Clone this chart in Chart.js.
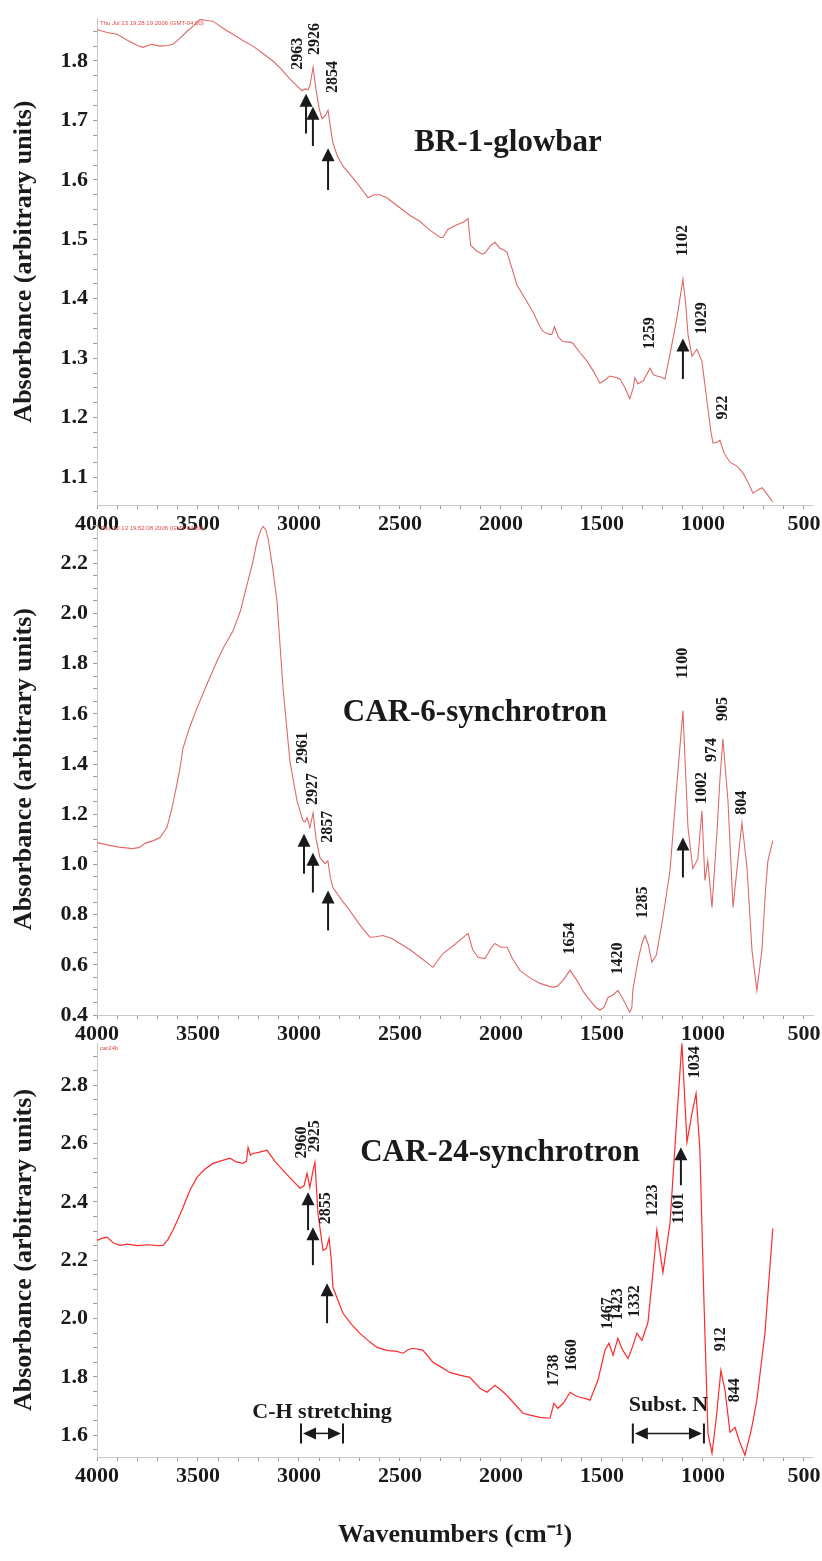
<!DOCTYPE html>
<html lang="en">
<head>
<meta charset="UTF-8">
<title>FTIR spectra</title>
<style>
  body { margin: 0; background: #fff; }
  #wrap { position: relative; width: 822px; height: 1561px; background: #fff; }
  canvas { position: absolute; left: 0; }
</style>
<script src="https://cdn.jsdelivr.net/npm/chart.js"></script>
</head>
<body>
<div id="wrap">
  <canvas id="c1" width="822" height="545" style="top:0px"></canvas>
  <canvas id="c2" width="822" height="545" style="top:505px"></canvas>
  <canvas id="c3" width="822" height="546" style="top:1015px"></canvas>
</div>
<script>
// ---- data (wavenumber cm-1, absorbance) ----
const wnBR1 = [4000,3950,3901,3850,3800,3772,3730,3688,3650,3624,3590,3554,3520,3490,3460,3426,3380,3327,3280,3228,3180,3129,3090,3045,3010,2985,2970,2955,2945,2930,2915,2900,2886,2870,2856,2845,2832,2810,2782,2750,2713,2680,2658,2630,2599,2565,2535,2500,2450,2401,2350,2300,2287,2262,2220,2180,2163,2150,2119,2090,2079,2050,2030,2005,1985,1970,1940,1921,1880,1842,1810,1792,1760,1748,1735,1715,1693,1660,1644,1610,1574,1540,1510,1490,1461,1435,1411,1385,1362,1345,1337,1322,1295,1262,1245,1228,1205,1188,1163,1129,1099,1085,1074,1054,1030,1005,980,960,950,932,916,895,866,830,802,775,752,730,708,680,654];
const absBR1 = [1.853,1.848,1.845,1.835,1.826,1.823,1.828,1.825,1.826,1.828,1.838,1.850,1.860,1.870,1.868,1.867,1.856,1.845,1.835,1.825,1.813,1.800,1.787,1.770,1.758,1.750,1.753,1.752,1.760,1.790,1.750,1.720,1.703,1.708,1.717,1.690,1.662,1.640,1.623,1.610,1.595,1.580,1.570,1.575,1.575,1.570,1.562,1.553,1.540,1.530,1.515,1.503,1.503,1.517,1.524,1.530,1.535,1.490,1.480,1.475,1.477,1.490,1.495,1.485,1.482,1.478,1.445,1.423,1.400,1.378,1.355,1.345,1.340,1.340,1.353,1.335,1.328,1.327,1.325,1.310,1.295,1.277,1.258,1.262,1.270,1.268,1.265,1.250,1.232,1.250,1.267,1.257,1.262,1.283,1.272,1.270,1.268,1.265,1.307,1.367,1.433,1.390,1.340,1.303,1.315,1.295,1.228,1.175,1.157,1.158,1.162,1.140,1.125,1.118,1.107,1.090,1.073,1.078,1.082,1.070,1.058];

const wnCAR6 = [4000,3950,3900,3822,3790,3760,3752,3720,3688,3654,3630,3604,3590,3574,3540,3505,3460,3406,3370,3327,3290,3257,3230,3208,3190,3178,3165,3153,3130,3109,3079,3045,3010,2980,2970,2960,2946,2930,2915,2896,2871,2857,2845,2832,2790,2748,2700,2649,2620,2584,2540,2500,2450,2401,2360,2337,2310,2287,2230,2163,2140,2114,2079,2050,2030,2000,1970,1940,1906,1860,1807,1743,1720,1693,1658,1624,1590,1559,1530,1510,1490,1470,1445,1421,1400,1362,1352,1347,1322,1300,1287,1270,1253,1230,1198,1163,1129,1099,1074,1050,1025,1005,990,976,955,931,915,901,876,851,827,807,782,757,733,708,690,678,654];
const absCAR6 = [1.087,1.078,1.070,1.063,1.068,1.085,1.087,1.095,1.107,1.147,1.220,1.321,1.380,1.464,1.550,1.623,1.710,1.810,1.870,1.930,2.010,2.116,2.200,2.287,2.330,2.347,2.335,2.300,2.180,2.050,1.703,1.413,1.254,1.174,1.170,1.186,1.147,1.206,1.100,1.027,1.003,1.015,0.950,0.908,0.860,0.816,0.760,0.710,0.712,0.717,0.705,0.685,0.660,0.630,0.605,0.590,0.620,0.645,0.680,0.725,0.660,0.630,0.625,0.665,0.685,0.670,0.670,0.620,0.578,0.550,0.526,0.510,0.515,0.538,0.578,0.538,0.490,0.458,0.430,0.420,0.430,0.470,0.480,0.498,0.470,0.411,0.430,0.498,0.617,0.690,0.717,0.680,0.610,0.640,0.789,0.975,1.321,1.612,1.147,0.983,1.023,1.214,0.936,1.015,0.829,1.122,1.350,1.500,1.254,0.829,1.015,1.166,0.990,0.657,0.498,0.657,0.900,1.015,1.095];

const wnCAR24 = [4000,3975,3951,3920,3886,3850,3800,3750,3700,3673,3650,3624,3600,3574,3540,3505,3470,3426,3390,3342,3310,3277,3260,3252,3240,3228,3200,3158,3120,3079,3040,2995,2975,2960,2946,2930,2921,2906,2881,2865,2851,2840,2832,2800,2782,2740,2698,2650,2614,2560,2520,2485,2460,2436,2400,2386,2337,2300,2253,2200,2154,2104,2069,2030,2000,1970,1930,1891,1850,1807,1757,1738,1718,1690,1658,1630,1609,1580,1559,1520,1485,1465,1445,1421,1400,1371,1350,1327,1302,1272,1248,1228,1198,1163,1129,1104,1079,1055,1034,1015,995,975,955,935,911,890,866,841,820,792,760,733,693,654];
const absCAR24 = [2.268,2.275,2.279,2.260,2.251,2.255,2.250,2.253,2.250,2.251,2.270,2.303,2.340,2.381,2.440,2.484,2.510,2.532,2.540,2.550,2.537,2.532,2.540,2.587,2.560,2.566,2.570,2.577,2.540,2.508,2.480,2.447,2.455,2.498,2.450,2.510,2.536,2.361,2.234,2.240,2.275,2.200,2.107,2.050,2.018,1.980,1.949,1.920,1.901,1.890,1.888,1.881,1.893,1.898,1.893,1.891,1.850,1.835,1.815,1.805,1.798,1.761,1.747,1.771,1.755,1.736,1.705,1.675,1.668,1.661,1.658,1.709,1.692,1.710,1.747,1.735,1.730,1.725,1.720,1.788,1.891,1.915,1.874,1.932,1.895,1.863,1.900,1.949,1.925,1.987,2.155,2.303,2.158,2.327,2.690,2.944,2.605,2.700,2.772,2.577,2.062,1.606,1.538,1.651,1.822,1.750,1.610,1.627,1.580,1.531,1.620,1.720,1.949,2.309];

const xTickVals = [];
for (let v = 500; v <= 4000; v += 100) xTickVals.push(v);

// peak labels: [text, wavenumber, absorbance]
const peaksBR1 = [['2963',3005,1.812],['2926',2921,1.837],['2854',2832,1.773],['1102',1099,1.498],['1259',1262,1.342],['1029',1005,1.367],['922',901,1.217]];
const arrowsBR1 = [[2965,1.745,1.678],[2931,1.723,1.657],[2856,1.653,1.583],[1099,1.333,1.265]];

const peaksCAR6 = [['2961',2980,1.464],['2927',2931,1.301],['2857',2856,1.150],['1100',1099,1.802],['905',901,1.620],['974',955,1.456],['1002',1005,1.305],['804',807,1.246],['1654',1658,0.705],['1420',1421,0.625],['1285',1297,0.848]];
const arrowsCAR6 = [[2975,1.122,0.963],[2931,1.047,0.888],[2856,0.896,0.737],[1099,1.107,0.948]];

const peaksCAR24 = [['2960',2985,2.604],['2925',2921,2.625],['2855',2866,2.378],['1034',1040,2.879],['1101',1119,2.378],['1223',1248,2.405],['1467',1470,2.018],['1423',1421,2.049],['1332',1337,2.059],['1738',1738,1.822],['1660',1649,1.874],['912',911,1.929],['844',842,1.754]];
const arrowsCAR24 = [[2955,2.433,2.303],[2931,2.313,2.183],[2861,2.121,1.984],[1109,2.587,2.457]];
const spansCAR24 = [['C-H stretching',2990,2782,1.606,1.678],['Subst. N',1347,995,1.606,1.702]];

const serif = '"Liberation Serif", "Times New Roman", serif';
const ink = '#1a1a1a';

function tickList(lo, hi, step) {
  const out = [];
  for (let v = lo; v <= hi + 1e-9; v += step) out.push(+v.toFixed(3));
  return out;
}

function arrowUp(ctx, x, yTip, yTail) {
  ctx.beginPath();
  ctx.moveTo(x, yTail);
  ctx.lineTo(x, yTip + 10);
  ctx.lineWidth = 2;
  ctx.stroke();
  ctx.beginPath();
  ctx.moveTo(x, yTip);
  ctx.lineTo(x - 6.5, yTip + 13);
  ctx.lineTo(x + 6.5, yTip + 13);
  ctx.closePath();
  ctx.fill();
}

function span(ctx, x1, x2, y) {
  const l = Math.min(x1, x2), r = Math.max(x1, x2);
  ctx.lineWidth = 2;
  ctx.beginPath();
  ctx.moveTo(l, y - 10); ctx.lineTo(l, y + 10);
  ctx.moveTo(r, y - 10); ctx.lineTo(r, y + 10);
  ctx.stroke();
  ctx.lineWidth = 1.5;
  ctx.beginPath();
  ctx.moveTo(l + 10, y); ctx.lineTo(r - 10, y);
  ctx.stroke();
  ctx.beginPath();
  ctx.moveTo(l + 2, y); ctx.lineTo(l + 15, y - 6); ctx.lineTo(l + 15, y + 6); ctx.closePath();
  ctx.moveTo(r - 2, y); ctx.lineTo(r - 15, y - 6); ctx.lineTo(r - 15, y + 6); ctx.closePath();
  ctx.fill();
}

function notes(n) {
  return {
    id: 'notes',
    afterDatasetsDraw(chart) {
      const { ctx, chartArea } = chart;
      const X = v => chart.scales.x.getPixelForValue(v);
      const Y = v => chart.scales.y.getPixelForValue(v);
      ctx.save();
      // tiny instrument stamp
      ctx.fillStyle = '#e04848';
      ctx.font = '6px "Liberation Sans", sans-serif';
      ctx.textAlign = 'left';
      ctx.textBaseline = 'top';
      ctx.fillText(n.stamp, chartArea.left + 3, chartArea.top + 2);

      ctx.fillStyle = ink;
      ctx.strokeStyle = ink;
      ctx.textAlign = 'center';
      ctx.textBaseline = 'middle';
      ctx.font = 'bold 31px ' + serif;
      ctx.fillText(n.name[0], X(n.name[1]), Y(n.name[2]));

      ctx.font = 'bold 16px ' + serif;
      n.peaks.forEach(([t, w, v]) => {
        ctx.save();
        ctx.translate(X(w), Y(v));
        ctx.rotate(-Math.PI / 2);
        ctx.fillText(t, 0, 0);
        ctx.restore();
      });
      n.arrows.forEach(([w, tip, tail]) => arrowUp(ctx, X(w), Y(tip), Y(tail)));

      (n.spans || []).forEach(([t, w1, w2, v, tv]) => {
        const x1 = X(w1), x2 = X(w2);
        span(ctx, x1, x2, Y(v));
        ctx.font = 'bold 22px ' + serif;
        ctx.fillText(t, (x1 + x2) / 2, Y(tv));
      });
      ctx.restore();
    }
  };
}

function makeChart(id, wn, ab, o) {
  return new Chart(document.getElementById(id), {
    type: 'line',
    data: {
      datasets: [{
        data: wn.map((w, i) => ({ x: w, y: ab[i] })),
        borderColor: o.color,
        borderWidth: o.lw,
        pointRadius: 0,
        tension: 0,
        fill: false
      }]
    },
    options: {
      responsive: false,
      animation: false,
      devicePixelRatio: 1,
      layout: { padding: { top: o.padTop, right: 9, left: 0, bottom: 0 } },
      plugins: { legend: { display: false }, tooltip: { enabled: false } },
      scales: {
        x: {
          type: 'linear', reverse: true, min: 455, max: 4000,
          afterBuildTicks: s => { s.ticks = xTickVals.map(v => ({ value: v })); },
          afterFit: s => { s.height = o.xH; },
          ticks: {
            autoSkip: false, maxRotation: 0, padding: 2, color: ink,
            font: { family: serif, size: 22, weight: 'bold' },
            callback: v => (v % 500 === 0 ? String(v) : '')
          },
          grid: { drawOnChartArea: false, tickLength: 4, color: '#9a9a9a' },
          border: { color: '#c8c8c8' },
          title: o.xTitle
            ? { display: true, text: o.xTitle, color: ink, padding: 10, font: { family: serif, size: 26, weight: 'bold' } }
            : { display: false }
        },
        y: {
          type: 'linear', min: o.yMin, max: o.yMax,
          afterBuildTicks: s => { s.ticks = o.yTicks.map(v => ({ value: v })); },
          afterFit: s => { s.width = 97; },
          ticks: {
            autoSkip: false, padding: 5, color: ink,
            font: { family: serif, size: 22, weight: 'bold' },
            callback: v => (Math.abs(v / o.yMajor - Math.round(v / o.yMajor)) < 1e-6 ? v.toFixed(1) : '')
          },
          grid: { drawOnChartArea: false, tickLength: 4, color: '#9a9a9a' },
          border: { color: '#c8c8c8' },
          title: { display: true, text: 'Absorbance (arbitrary units)', color: ink, padding: 9, font: { family: serif, size: 26, weight: 'bold' } }
        }
      }
    },
    plugins: [notes(o.notes)]
  });
}

makeChart('c1', wnBR1, absBR1, {
  color: '#e06868', lw: 1.1, padTop: 14, xH: 40,
  yMin: 1.053, yMax: 1.872, yTicks: tickList(1.075, 1.85, 0.025), yMajor: 0.1,
  notes: { stamp: 'Thu Jul 13 19:28:19 2006 (GMT-04:00)', name: ['BR-1-glowbar', 1965, 1.662], peaks: peaksBR1, arrows: arrowsBR1 }
});

makeChart('c2', wnCAR6, absCAR6, {
  color: '#e06868', lw: 1.1, padTop: 18, xH: 35,
  yMin: 0.4, yMax: 2.36, yTicks: tickList(0.4, 2.35, 0.05), yMajor: 0.2,
  notes: { stamp: 'Thu Jul 13 19:52:08 2006 (GMT-04:00)', name: ['CAR-6-synchrotron', 2129, 1.604], peaks: peaksCAR6, arrows: arrowsCAR6 }
});

makeChart('c3', wnCAR24, absCAR24, {
  color: '#ff2a2a', lw: 1.2, padTop: 28, xH: 104, xTitle: 'Wavenumbers (cm\u207B\u00B9)',
  yMin: 1.525, yMax: 2.945, yTicks: tickList(1.55, 2.9, 0.05), yMajor: 0.2,
  notes: { stamp: 'car24b', name: ['CAR-24-synchrotron', 2005, 2.567], peaks: peaksCAR24, arrows: arrowsCAR24, spans: spansCAR24 }
});
</script>
</body>
</html>
